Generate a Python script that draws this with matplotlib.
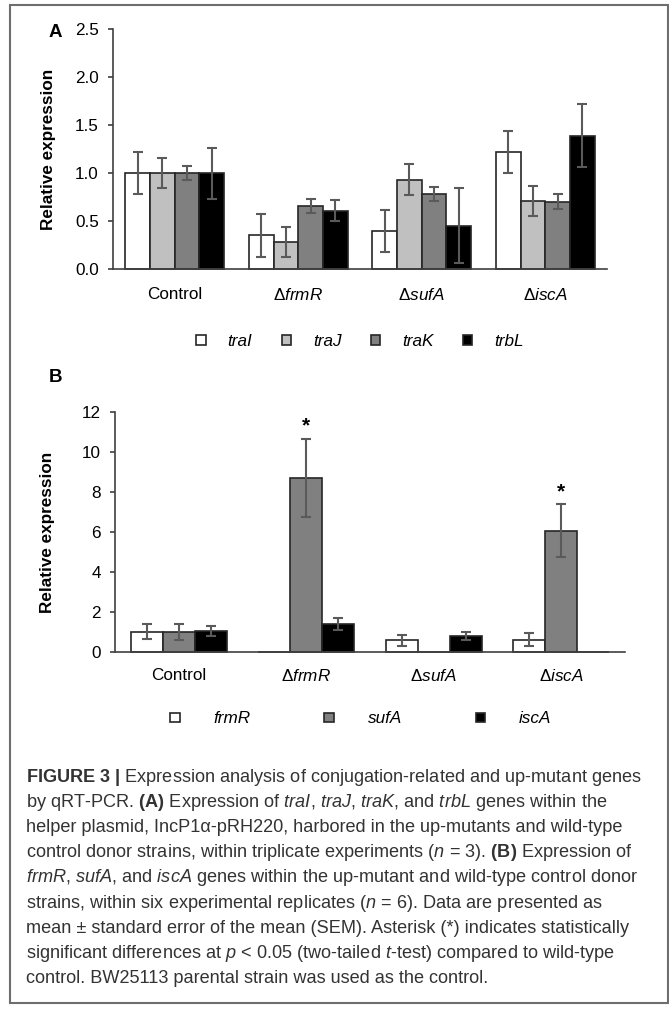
import matplotlib
matplotlib.use("Agg")
import matplotlib.pyplot as plt
import numpy as np
from matplotlib.patches import Patch, Rectangle

plt.rcParams['font.family'] = ['Liberation Sans', 'DejaVu Sans']
plt.rcParams['mathtext.fontset'] = 'custom'
plt.rcParams['mathtext.rm'] = 'Liberation Sans'
plt.rcParams['mathtext.it'] = 'Liberation Sans:italic'
plt.rcParams['mathtext.bf'] = 'Liberation Sans:bold'

# データ
strains = ["Control", "Δ$\\mathit{frmR}$", "Δ$\\mathit{sufA}$", "Δ$\\mathit{iscA}$"]

# (A) 接合関連遺伝子
genes_a = ["traI", "traJ", "traK", "trbL"]
colors_a = ["#ffffff", "#c0c0c0", "#808080", "#000000"]
mean_a = [
    [1.00, 0.35, 0.40, 1.22],   # traI
    [1.00, 0.28, 0.93, 0.71],   # traJ
    [1.00, 0.66, 0.78, 0.70],   # traK
    [1.00, 0.61, 0.45, 1.39],   # trbL
]
sem_a = [
    [0.22, 0.22, 0.22, 0.22],
    [0.16, 0.16, 0.16, 0.16],
    [0.075, 0.075, 0.075, 0.078],
    [0.265, 0.11, 0.39, 0.33],
]

# (B) up-mutant 遺伝子
genes_b = ["frmR", "sufA", "iscA"]
colors_b = ["#ffffff", "#808080", "#000000"]
mean_b = [
    [1.00, 0.00, 0.57, 0.61],   # frmR
    [1.00, 8.72, 0.00, 6.07],   # sufA
    [1.05, 1.40, 0.80, 0.00],   # iscA
]
sem_b = [
    [0.38, 0.00, 0.27, 0.32],
    [0.41, 1.95, 0.00, 1.32],
    [0.26, 0.30, 0.21, 0.00],
]
# 有意差 (gene index, strain index)
stars_b = [(1, 1), (1, 3)]

caption = [
    "$\\mathbf{FIGURE\\ 3\\ |}$ Expression analysis of conjugation-related and up-mutant genes",
    "by qRT-PCR. $\\mathbf{(A)}$ Expression of $\\mathit{traI}$, $\\mathit{traJ}$, $\\mathit{traK}$, and $\\mathit{trbL}$ genes within the",
    "helper plasmid, IncP1α-pRH220, harbored in the up-mutants and wild-type",
    "control donor strains, within triplicate experiments ($\\mathit{n}$ = 3). $\\mathbf{(B)}$ Expression of",
    "$\\mathit{frmR}$, $\\mathit{sufA}$, and $\\mathit{iscA}$ genes within the up-mutant and wild-type control donor",
    "strains, within six experimental replicates ($\\mathit{n}$ = 6). Data are presented as",
    "mean ± standard error of the mean (SEM). Asterisk (*) indicates statistically",
    "significant differences at $\\mathit{p}$ < 0.05 (two-tailed $\\mathit{t}$-test) compared to wild-type",
    "control. BW25113 parental strain was used as the control.",
]

FS = 12.3
EDGE = "#262626"
ERR = "#5a5a5a"

W, H = 669, 1009
fig = plt.figure(figsize=(W / 100, H / 100), dpi=100)


def style_axis(ax, ymax, step, fmt, pad_x):
    ax.set_xlim(-0.5, 3.5)
    ax.set_ylim(0, ymax)
    ax.set_yticks(np.arange(0, ymax + step / 2, step))
    ax.yaxis.set_major_formatter(plt.FormatStrFormatter(fmt))
    ax.set_xticks(range(len(strains)))
    ax.set_xticklabels(strains)
    for s in ["top", "right"]:
        ax.spines[s].set_visible(False)
    for s in ["left", "bottom"]:
        ax.spines[s].set_color("#404040")
        ax.spines[s].set_linewidth(1.2)
    ax.tick_params(axis="y", direction="out", length=3.6, width=1.2,
                   color="#404040", pad=6.5, labelsize=FS)
    ax.tick_params(axis="x", length=0, pad=pad_x, labelsize=FS)
    ax.set_ylabel("Relative expression", fontsize=FS, fontweight="bold")


def draw_bars(ax, means, sems, colors, width):
    n = len(means)
    x = np.arange(len(strains))
    for i in range(n):
        off = (i - (n - 1) / 2) * width
        ax.bar(x + off, means[i], width, color=colors[i], edgecolor=EDGE,
               linewidth=1.2, zorder=2, clip_on=False)
        m = np.array(means[i])
        e = np.array(sems[i])
        keep = e > 0
        ax.errorbar((x + off)[keep], m[keep], yerr=e[keep], fmt="none",
                    ecolor=ERR, elinewidth=1.5, capsize=3.3, capthick=1.5,
                    zorder=3)


# (A)
axA = fig.add_axes([113 / W, 1 - 269 / H, 494 / W, 239.7 / H])
draw_bars(axA, mean_a, sem_a, colors_a, 0.2)
style_axis(axA, 2.5, 0.5, "%.1f", 13)
axA.yaxis.set_label_coords(-0.116, 0.5)
hA = [Patch(facecolor=c, edgecolor=EDGE, linewidth=1.2) for c in colors_a]
axA.legend(hA, genes_a, loc="center", bbox_to_anchor=(0.5, -0.303), ncol=4,
           frameon=False, handlelength=0.55, handleheight=0.5,
           handletextpad=1.3, columnspacing=1.7,
           prop={"style": "italic", "size": FS})

# (B)
axB = fig.add_axes([115 / W, 1 - 651.7 / H, 510 / W, 239.4 / H])
draw_bars(axB, mean_b, sem_b, colors_b, 0.25)
style_axis(axB, 12, 2, "%d", 12)
axB.yaxis.set_label_coords(-0.117, 0.5)
for g, s in stars_b:
    off = (g - 1) * 0.25
    axB.text(s + off, mean_b[g][s] + sem_b[g][s] + 0.35, "*", ha="center",
             va="baseline", fontsize=15, fontweight="bold")
hB = [Patch(facecolor=c, edgecolor=EDGE, linewidth=1.2) for c in colors_b]
axB.legend(hB, genes_b, loc="center", bbox_to_anchor=(0.482, -0.281), ncol=3,
           frameon=False, handlelength=0.55, handleheight=0.5,
           handletextpad=2.0, columnspacing=4.3,
           prop={"style": "italic", "size": FS})

# パネル記号
fig.text(55.5 / W, 1 - 32.3 / H, "A", fontsize=13.5, fontweight="bold",
         ha="center", va="center")
fig.text(55.5 / W, 1 - 377 / H, "B", fontsize=13.5, fontweight="bold",
         ha="center", va="center")

# キャプション
for i, line in enumerate(caption):
    fig.text(26.5 / W, 1 - (781.7 + 25.2 * i) / H, line, fontsize=13.05,
             color="#333333", ha="left", va="baseline")

# 枠
fig.patches.append(Rectangle((9.5 / W, 1 - 1003 / H), 658 / W, 998 / H,
                             transform=fig.transFigure, fill=False,
                             edgecolor="#6e6e6e", linewidth=1.5))

fig.savefig("out.png", dpi=100)
